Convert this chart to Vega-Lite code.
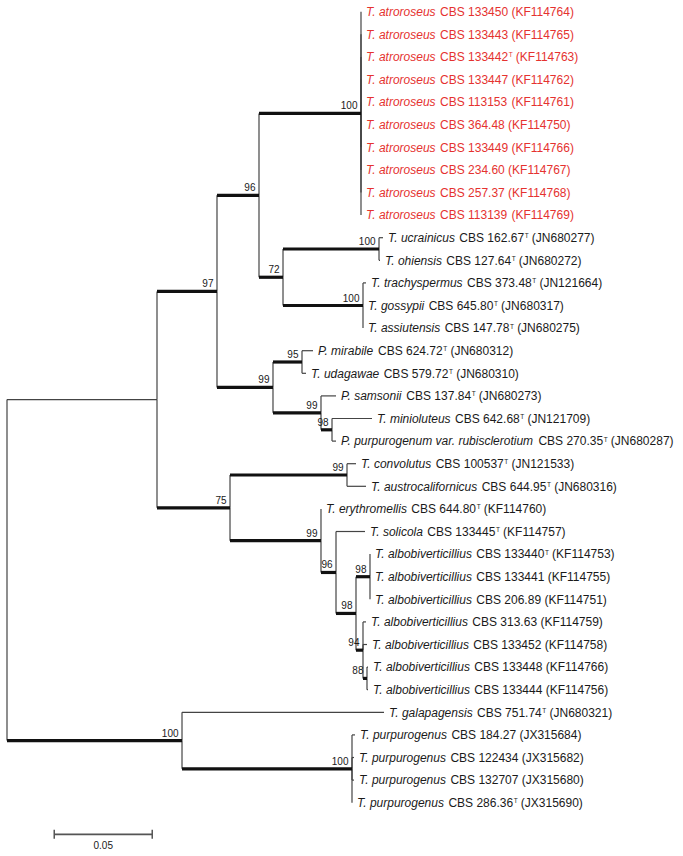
{
  "$schema": "https://vega.github.io/schema/vega-lite/v6.json",
  "width": 683,
  "height": 856,
  "padding": 0,
  "autosize": {"type": "fit", "contains": "padding"},
  "background": "white",
  "config": {"view": {"stroke": null}, "text": {"font": "Liberation Sans"}},
  "datasets": {
    "nodes": [
      {"id": "root", "parent": null, "d": 0, "i": 24.707},
      {"id": "A", "parent": "root", "d": 0.07653, "i": 17.164},
      {"id": "N97", "parent": "A", "d": 0.10714, "i": 12.375, "bs": 97},
      {"id": "N96", "parent": "N97", "d": 0.12857, "i": 8.125, "bs": 96},
      {"id": "Natro", "parent": "N96", "d": 0.18061, "i": 4.5, "bs": 100},
      {"id": "N72", "parent": "N96", "d": 0.14082, "i": 11.75, "bs": 72},
      {"id": "Nuo", "parent": "N72", "d": 0.1898, "i": 10.5, "bs": 100},
      {"id": "Ntga", "parent": "N72", "d": 0.18163, "i": 13, "bs": 100},
      {"id": "N99m", "parent": "N97", "d": 0.13571, "i": 16.625, "bs": 99},
      {"id": "N95", "parent": "N99m", "d": 0.15051, "i": 15.5, "bs": 95},
      {"id": "N99s", "parent": "N99m", "d": 0.1602, "i": 17.75, "bs": 99},
      {"id": "N98m", "parent": "N99s", "d": 0.16582, "i": 18.5, "bs": 98},
      {"id": "N75", "parent": "A", "d": 0.11378, "i": 21.953, "bs": 75},
      {"id": "N99c", "parent": "N75", "d": 0.17347, "i": 20.5, "bs": 99},
      {"id": "N99e", "parent": "N75", "d": 0.1602, "i": 23.406, "bs": 99},
      {"id": "N96e", "parent": "N99e", "d": 0.16786, "i": 24.8125, "bs": 96},
      {"id": "N98l", "parent": "N96e", "d": 0.17806, "i": 26.625, "bs": 98},
      {"id": "N98u", "parent": "N98l", "d": 0.1852, "i": 25, "bs": 98},
      {"id": "N94", "parent": "N98l", "d": 0.18163, "i": 28.25, "bs": 94},
      {"id": "N88", "parent": "N94", "d": 0.18367, "i": 29.5, "bs": 88},
      {"id": "N100b", "parent": "root", "d": 0.08929, "i": 32.25, "bs": 100},
      {"id": "N100p", "parent": "N100b", "d": 0.17602, "i": 33.5, "bs": 100},
      {"id": "L0", "parent": "Natro", "d": 0.18061, "i": 0, "sp": "T. atroroseus", "cbs": "CBS 133450", "ty": false, "acc": "(KF114764)", "red": true},
      {"id": "L1", "parent": "Natro", "d": 0.18061, "i": 1, "sp": "T. atroroseus", "cbs": "CBS 133443", "ty": false, "acc": "(KF114765)", "red": true},
      {"id": "L2", "parent": "Natro", "d": 0.18061, "i": 2, "sp": "T. atroroseus", "cbs": "CBS 133442", "ty": true, "acc": "(KF114763)", "red": true},
      {"id": "L3", "parent": "Natro", "d": 0.18061, "i": 3, "sp": "T. atroroseus", "cbs": "CBS 133447", "ty": false, "acc": "(KF114762)", "red": true},
      {"id": "L4", "parent": "Natro", "d": 0.18061, "i": 4, "sp": "T. atroroseus", "cbs": "CBS 113153", "ty": false, "acc": "(KF114761)", "red": true},
      {"id": "L5", "parent": "Natro", "d": 0.18061, "i": 5, "sp": "T. atroroseus", "cbs": "CBS 364.48", "ty": false, "acc": "(KF114750)", "red": true},
      {"id": "L6", "parent": "Natro", "d": 0.18061, "i": 6, "sp": "T. atroroseus", "cbs": "CBS 133449", "ty": false, "acc": "(KF114766)", "red": true},
      {"id": "L7", "parent": "Natro", "d": 0.18061, "i": 7, "sp": "T. atroroseus", "cbs": "CBS 234.60", "ty": false, "acc": "(KF114767)", "red": true},
      {"id": "L8", "parent": "Natro", "d": 0.18061, "i": 8, "sp": "T. atroroseus", "cbs": "CBS 257.37", "ty": false, "acc": "(KF114768)", "red": true},
      {"id": "L9", "parent": "Natro", "d": 0.18061, "i": 9, "sp": "T. atroroseus", "cbs": "CBS 113139", "ty": false, "acc": "(KF114769)", "red": true},
      {"id": "L10", "parent": "Nuo", "d": 0.19184, "i": 10, "sp": "T. ucrainicus", "cbs": "CBS 162.67", "ty": true, "acc": "(JN680277)", "red": false},
      {"id": "L11", "parent": "Nuo", "d": 0.19031, "i": 11, "sp": "T. ohiensis", "cbs": "CBS 127.64", "ty": true, "acc": "(JN680272)", "red": false},
      {"id": "L12", "parent": "Ntga", "d": 0.18316, "i": 12, "sp": "T. trachyspermus", "cbs": "CBS 373.48", "ty": true, "acc": "(JN121664)", "red": false},
      {"id": "L13", "parent": "Ntga", "d": 0.18163, "i": 13, "sp": "T. gossypii", "cbs": "CBS 645.80", "ty": true, "acc": "(JN680317)", "red": false},
      {"id": "L14", "parent": "Ntga", "d": 0.18163, "i": 14, "sp": "T. assiutensis", "cbs": "CBS 147.78", "ty": true, "acc": "(JN680275)", "red": false},
      {"id": "L15", "parent": "N95", "d": 0.15612, "i": 15, "sp": "P. mirabile", "cbs": "CBS 624.72", "ty": true, "acc": "(JN680312)", "red": false},
      {"id": "L16", "parent": "N95", "d": 0.15255, "i": 16, "sp": "T. udagawae", "cbs": "CBS 579.72", "ty": true, "acc": "(JN680310)", "red": false},
      {"id": "L17", "parent": "N99s", "d": 0.16786, "i": 17, "sp": "P. samsonii", "cbs": "CBS 137.84", "ty": true, "acc": "(JN680273)", "red": false},
      {"id": "L18", "parent": "N98m", "d": 0.18622, "i": 18, "sp": "T. minioluteus", "cbs": "CBS 642.68", "ty": true, "acc": "(JN121709)", "red": false},
      {"id": "L19", "parent": "N98m", "d": 0.16786, "i": 19, "sp": "P. purpurogenum var. rubisclerotium", "cbs": "CBS 270.35", "ty": true, "acc": "(JN680287)", "red": false},
      {"id": "L20", "parent": "N99c", "d": 0.17806, "i": 20, "sp": "T. convolutus", "cbs": "CBS 100537", "ty": true, "acc": "(JN121533)", "red": false},
      {"id": "L21", "parent": "N99c", "d": 0.18316, "i": 21, "sp": "T. austrocalifornicus", "cbs": "CBS 644.95", "ty": true, "acc": "(JN680316)", "red": false},
      {"id": "L22", "parent": "N99e", "d": 0.1602, "i": 22, "sp": "T. erythromellis", "cbs": "CBS 644.80", "ty": true, "acc": "(KF114760)", "red": false},
      {"id": "L23", "parent": "N96e", "d": 0.18265, "i": 23, "sp": "T. solicola", "cbs": "CBS 133445", "ty": true, "acc": "(KF114757)", "red": false},
      {"id": "L24", "parent": "N98u", "d": 0.1852, "i": 24, "sp": "T. albobiverticillius", "cbs": "CBS 133440", "ty": true, "acc": "(KF114753)", "red": false},
      {"id": "L25", "parent": "N98u", "d": 0.1852, "i": 25, "sp": "T. albobiverticillius", "cbs": "CBS 133441", "ty": false, "acc": "(KF114755)", "red": false},
      {"id": "L26", "parent": "N98u", "d": 0.1852, "i": 26, "sp": "T. albobiverticillius", "cbs": "CBS 206.89", "ty": false, "acc": "(KF114751)", "red": false},
      {"id": "L27", "parent": "N94", "d": 0.18316, "i": 27, "sp": "T. albobiverticillius", "cbs": "CBS 313.63", "ty": false, "acc": "(KF114759)", "red": false},
      {"id": "L28", "parent": "N94", "d": 0.18367, "i": 28, "sp": "T. albobiverticillius", "cbs": "CBS 133452", "ty": false, "acc": "(KF114758)", "red": false},
      {"id": "L29", "parent": "N88", "d": 0.18418, "i": 29, "sp": "T. albobiverticillius", "cbs": "CBS 133448", "ty": false, "acc": "(KF114766)", "red": false},
      {"id": "L30", "parent": "N88", "d": 0.18418, "i": 30, "sp": "T. albobiverticillius", "cbs": "CBS 133444", "ty": false, "acc": "(KF114756)", "red": false},
      {"id": "L31", "parent": "N100b", "d": 0.19235, "i": 31, "sp": "T. galapagensis", "cbs": "CBS 751.74", "ty": true, "acc": "(JN680321)", "red": false},
      {"id": "L32", "parent": "N100p", "d": 0.17755, "i": 32, "sp": "T. purpurogenus", "cbs": "CBS 184.27", "ty": false, "acc": "(JX315684)", "red": false},
      {"id": "L33", "parent": "N100p", "d": 0.17704, "i": 33, "sp": "T. purpurogenus", "cbs": "CBS 122434", "ty": false, "acc": "(JX315682)", "red": false},
      {"id": "L34", "parent": "N100p", "d": 0.17704, "i": 34, "sp": "T. purpurogenus", "cbs": "CBS 132707", "ty": false, "acc": "(JX315680)", "red": false},
      {"id": "L35", "parent": "N100p", "d": 0.17602, "i": 35, "sp": "T. purpurogenus", "cbs": "CBS 286.36", "ty": true, "acc": "(JX315690)", "red": false}
    ],
    "scalebar": [
      {"x0": 0.0241, "len": 0.05, "i": 36.4, "lab": "0.05"}
    ]
  },
  "layer": [
    {
      "data": {"name": "nodes"},
      "transform": [
        {"lookup": "parent", "from": {"data": {"name": "nodes"}, "key": "id", "fields": ["d", "i"]}, "as": ["pd", "pi"]},
        {"calculate": "isValid(datum.sp) ? 0.012*(556*length(datum.sp)-334*(length(datum.sp)-length(replace(datum.sp,regexp('[ijl]','g'),'')))-278*(length(datum.sp)-length(replace(datum.sp,regexp('[ft. ]','g'),'')))-223*(length(datum.sp)-length(replace(datum.sp,regexp('[r()]','g'),'')))-56*(length(datum.sp)-length(replace(datum.sp,regexp('[cksvxyzJ]','g'),'')))+55*(length(datum.sp)-length(replace(datum.sp,regexp('[TF]','g'),'')))+111*(length(datum.sp)-length(replace(datum.sp,regexp('[ABEKPSVX]','g'),'')))+166*(length(datum.sp)-length(replace(datum.sp,regexp('[CDHNRUw]','g'),'')))+277*(length(datum.sp)-length(replace(datum.sp,regexp('[mM]','g'),'')))) : 0", "as": "ws"},
        {"calculate": "isValid(datum.cbs) ? 0.012*(556*length(datum.cbs)-334*(length(datum.cbs)-length(replace(datum.cbs,regexp('[ijl]','g'),'')))-278*(length(datum.cbs)-length(replace(datum.cbs,regexp('[ft. ]','g'),'')))-223*(length(datum.cbs)-length(replace(datum.cbs,regexp('[r()]','g'),'')))-56*(length(datum.cbs)-length(replace(datum.cbs,regexp('[cksvxyzJ]','g'),'')))+55*(length(datum.cbs)-length(replace(datum.cbs,regexp('[TF]','g'),'')))+111*(length(datum.cbs)-length(replace(datum.cbs,regexp('[ABEKPSVX]','g'),'')))+166*(length(datum.cbs)-length(replace(datum.cbs,regexp('[CDHNRUw]','g'),'')))+277*(length(datum.cbs)-length(replace(datum.cbs,regexp('[mM]','g'),'')))) : 0", "as": "wc"},
        {"calculate": "datum.d + (datum.ws + 3.336) / 1960", "as": "cx"},
        {"calculate": "datum.cx + (datum.wc + 0.6) / 1960", "as": "tx"},
        {"calculate": "datum.cx + (datum.wc + (datum.ty ? 4.4 : 0) + 3.336) / 1960", "as": "ax"}
      ],
      "layer": [
        {
          "transform": [{"filter": "isValid(datum.pd)"}],
          "mark": {"type": "rule", "color": "#444444", "strokeWidth": 1.2},
          "encoding": {
            "x": {"field": "pd", "type": "quantitative", "scale": {"domain": [-0.0035714, 0.344898], "nice": false, "zero": false}, "axis": null},
            "y": {"field": "pi", "type": "quantitative", "scale": {"domain": [-0.5177, 37.358], "reverse": true, "nice": false, "zero": false}, "axis": null},
            "y2": {"field": "i"}
          }
        },
        {
          "transform": [{"filter": "isValid(datum.pd) && !isValid(datum.bs)"}],
          "mark": {"type": "rule", "color": "#444444", "strokeWidth": 1.2},
          "encoding": {
            "x": {"field": "pd", "type": "quantitative", "scale": {"domain": [-0.0035714, 0.344898], "nice": false, "zero": false}, "axis": null},
            "x2": {"field": "d"},
            "y": {"field": "i", "type": "quantitative", "scale": {"domain": [-0.5177, 37.358], "reverse": true, "nice": false, "zero": false}, "axis": null}
          }
        },
        {
          "transform": [{"filter": "isValid(datum.pd) && isValid(datum.bs)"}],
          "mark": {"type": "rule", "color": "#111111", "strokeWidth": 3.2},
          "encoding": {
            "x": {"field": "pd", "type": "quantitative", "scale": {"domain": [-0.0035714, 0.344898], "nice": false, "zero": false}, "axis": null},
            "x2": {"field": "d"},
            "y": {"field": "i", "type": "quantitative", "scale": {"domain": [-0.5177, 37.358], "reverse": true, "nice": false, "zero": false}, "axis": null}
          }
        },
        {
          "transform": [{"filter": "isValid(datum.bs)"}],
          "mark": {"type": "text", "align": "right", "baseline": "alphabetic", "dx": -3.5, "dy": -4, "fontSize": 10, "color": "#1a1a1a"},
          "encoding": {
            "x": {"field": "d", "type": "quantitative", "axis": null},
            "y": {"field": "i", "type": "quantitative", "axis": null},
            "text": {"field": "bs", "type": "nominal"}
          }
        },
        {
          "transform": [{"filter": "isValid(datum.sp)"}],
          "mark": {"type": "text", "align": "left", "baseline": "alphabetic", "dx": 5, "dy": 4.3, "fontSize": 12, "fontStyle": "italic"},
          "encoding": {
            "x": {"field": "d", "type": "quantitative", "axis": null},
            "y": {"field": "i", "type": "quantitative", "axis": null},
            "text": {"field": "sp", "type": "nominal"},
            "color": {"condition": {"test": "datum.red", "value": "#e5322f"}, "value": "#1a1a1a"}
          }
        },
        {
          "transform": [{"filter": "isValid(datum.sp)"}],
          "mark": {"type": "text", "align": "left", "baseline": "alphabetic", "dx": 5, "dy": 4.3, "fontSize": 12},
          "encoding": {
            "x": {"field": "cx", "type": "quantitative", "axis": null},
            "y": {"field": "i", "type": "quantitative", "axis": null},
            "text": {"field": "cbs", "type": "nominal"},
            "color": {"condition": {"test": "datum.red", "value": "#e5322f"}, "value": "#1a1a1a"}
          }
        },
        {
          "transform": [{"filter": "datum.ty === true"}],
          "mark": {"type": "text", "align": "left", "baseline": "alphabetic", "dx": 5, "dy": 0.5, "fontSize": 6.5},
          "encoding": {
            "x": {"field": "tx", "type": "quantitative", "axis": null},
            "y": {"field": "i", "type": "quantitative", "axis": null},
            "text": {"value": "T"},
            "color": {"condition": {"test": "datum.red", "value": "#e5322f"}, "value": "#1a1a1a"}
          }
        },
        {
          "transform": [{"filter": "isValid(datum.sp)"}],
          "mark": {"type": "text", "align": "left", "baseline": "alphabetic", "dx": 5, "dy": 4.3, "fontSize": 12},
          "encoding": {
            "x": {"field": "ax", "type": "quantitative", "axis": null},
            "y": {"field": "i", "type": "quantitative", "axis": null},
            "text": {"field": "acc", "type": "nominal"},
            "color": {"condition": {"test": "datum.red", "value": "#e5322f"}, "value": "#1a1a1a"}
          }
        }
      ]
    },
    {
      "data": {"name": "scalebar"},
      "transform": [
        {"calculate": "datum.x0 + datum.len", "as": "x1"},
        {"calculate": "datum.x0 + datum.len / 2", "as": "xm"}
      ],
      "layer": [
        {
          "mark": {"type": "rule", "color": "#555555", "strokeWidth": 1.6},
          "encoding": {
            "x": {"field": "x0", "type": "quantitative", "axis": null},
            "x2": {"field": "x1"},
            "y": {"field": "i", "type": "quantitative", "axis": null}
          }
        },
        {
          "mark": {"type": "tick", "orient": "vertical", "size": 9, "thickness": 1.5, "color": "#555555", "opacity": 1},
          "encoding": {
            "x": {"field": "x0", "type": "quantitative", "axis": null},
            "y": {"field": "i", "type": "quantitative", "axis": null}
          }
        },
        {
          "mark": {"type": "tick", "orient": "vertical", "size": 9, "thickness": 1.5, "color": "#555555", "opacity": 1},
          "encoding": {
            "x": {"field": "x1", "type": "quantitative", "axis": null},
            "y": {"field": "i", "type": "quantitative", "axis": null}
          }
        },
        {
          "mark": {"type": "text", "align": "center", "baseline": "alphabetic", "dy": 14.3, "fontSize": 10, "color": "#1a1a1a"},
          "encoding": {
            "x": {"field": "xm", "type": "quantitative", "axis": null},
            "y": {"field": "i", "type": "quantitative", "axis": null},
            "text": {"field": "lab", "type": "nominal"}
          }
        }
      ]
    }
  ]
}
